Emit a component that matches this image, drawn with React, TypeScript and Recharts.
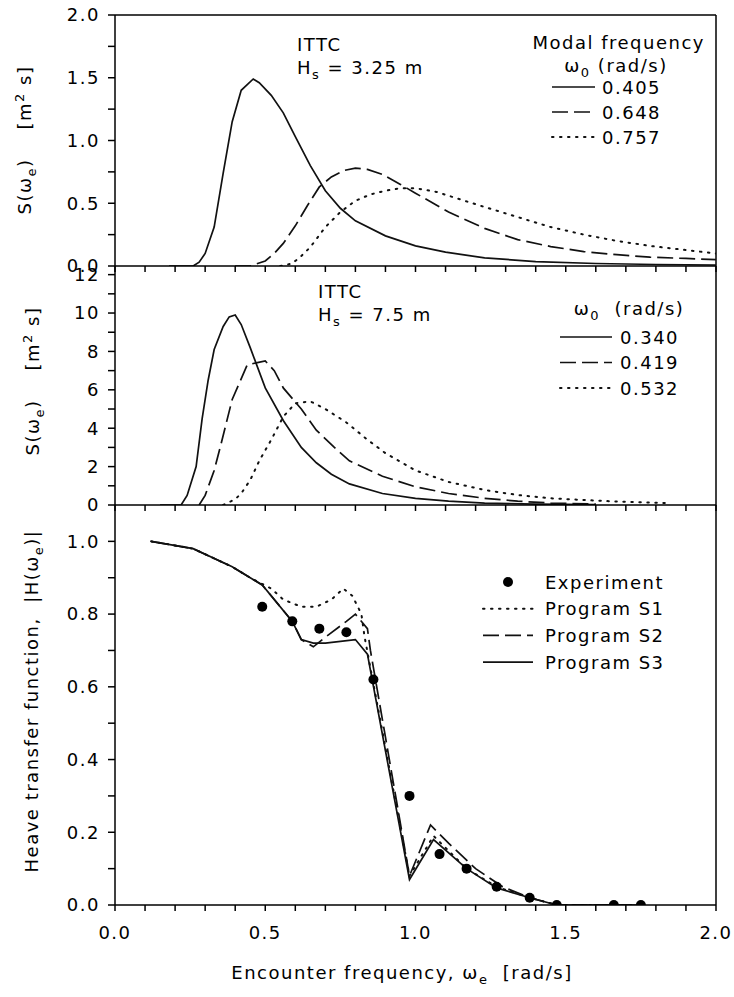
import React from "react";
import { LineChart, ComposedChart, Line, Scatter, XAxis, YAxis, ReferenceLine } from "recharts";

// shared x axis (encounter frequency, rad/s)
const xTicks = [0, 0.1, 0.2, 0.3, 0.4, 0.5, 0.6, 0.7, 0.8, 0.9, 1.0, 1.1, 1.2, 1.3, 1.4, 1.5, 1.6, 1.7, 1.8, 1.9, 2.0];
const xLabels = [0, 0.5, 1.0, 1.5, 2.0];

// top panel: ITTC Hs = 3.25 m
const topYTicks = [0, 0.25, 0.5, 0.75, 1.0, 1.25, 1.5, 1.75, 2.0];
const topYLabels = [0, 0.5, 1.0, 1.5, 2.0];
const topNames = ["0.405", "0.648", "0.757"];
const s405X = [0.18, 0.26, 0.28, 0.30, 0.33, 0.36, 0.39, 0.42, 0.46, 0.48, 0.52, 0.56, 0.60, 0.65, 0.70, 0.75, 0.80, 0.90, 1.00, 1.10, 1.23, 1.40, 1.60, 1.80, 2.00];
const s405Y = [0, 0, 0.03, 0.10, 0.31, 0.74, 1.15, 1.40, 1.49, 1.46, 1.36, 1.22, 1.03, 0.80, 0.60, 0.46, 0.36, 0.24, 0.16, 0.11, 0.065, 0.035, 0.02, 0.012, 0.008];
const s648X = [0.40, 0.45, 0.50, 0.53, 0.56, 0.60, 0.64, 0.68, 0.72, 0.76, 0.80, 0.84, 0.89, 0.95, 1.00, 1.11, 1.23, 1.34, 1.45, 1.56, 1.67, 1.78, 1.90, 2.00];
const s648Y = [0, 0, 0.04, 0.10, 0.18, 0.32, 0.48, 0.63, 0.71, 0.76, 0.78, 0.77, 0.73, 0.65, 0.58, 0.43, 0.30, 0.21, 0.155, 0.115, 0.09, 0.07, 0.06, 0.05];
const s757X = [0.55, 0.59, 0.62, 0.65, 0.70, 0.75, 0.80, 0.85, 0.90, 0.95, 1.00, 1.07, 1.15, 1.23, 1.34, 1.45, 1.56, 1.67, 1.78, 1.89, 2.00];
const s757Y = [0, 0.02, 0.08, 0.15, 0.31, 0.43, 0.52, 0.57, 0.60, 0.62, 0.62, 0.59, 0.53, 0.47, 0.39, 0.31, 0.25, 0.20, 0.16, 0.13, 0.10];

// middle panel: ITTC Hs = 7.5 m
const midYTicks = [0, 1, 2, 3, 4, 5, 6, 7, 8, 9, 10, 11, 12];
const midYLabels = [0, 2, 4, 6, 8, 10, 12];
const midNames = ["0.340", "0.419", "0.532"];
const s340X = [0.15, 0.22, 0.24, 0.27, 0.29, 0.31, 0.33, 0.36, 0.38, 0.40, 0.42, 0.45, 0.50, 0.56, 0.62, 0.67, 0.72, 0.78, 0.89, 1.00, 1.11, 1.23, 1.40, 1.60];
const s340Y = [0, 0, 0.5, 2.0, 4.5, 6.5, 8.1, 9.3, 9.8, 9.9, 9.4, 8.2, 6.1, 4.4, 3.0, 2.2, 1.6, 1.1, 0.6, 0.35, 0.2, 0.1, 0.05, 0.02];
const s419X = [0.28, 0.30, 0.33, 0.35, 0.39, 0.44, 0.47, 0.50, 0.53, 0.56, 0.62, 0.67, 0.73, 0.78, 0.89, 1.00, 1.11, 1.23, 1.34, 1.45, 1.60];
const s419Y = [0, 0.5, 1.8, 3.0, 5.5, 7.3, 7.4, 7.5, 7.0, 6.1, 5.0, 3.9, 3.0, 2.3, 1.5, 0.95, 0.6, 0.35, 0.2, 0.1, 0.05];
const s532X = [0.36, 0.40, 0.42, 0.45, 0.48, 0.52, 0.56, 0.60, 0.65, 0.70, 0.77, 0.84, 0.90, 1.00, 1.11, 1.23, 1.34, 1.45, 1.56, 1.67, 1.84];
const s532Y = [0, 0.3, 0.6, 1.3, 2.3, 3.4, 4.6, 5.3, 5.4, 5.0, 4.3, 3.4, 2.7, 1.8, 1.2, 0.78, 0.52, 0.35, 0.26, 0.18, 0.10];

// bottom panel: heave transfer function
const botYTicks = [0, 0.1, 0.2, 0.3, 0.4, 0.5, 0.6, 0.7, 0.8, 0.9, 1.0];
const botYLabels = [0, 0.2, 0.4, 0.6, 0.8, 1.0];
const botNames = ["Experiment", "Program S1", "Program S2", "Program S3"];
const expX = [0.49, 0.59, 0.68, 0.77, 0.86, 0.98, 1.08, 1.17, 1.27, 1.38, 1.47, 1.66, 1.75];
const expY = [0.82, 0.78, 0.76, 0.75, 0.62, 0.30, 0.14, 0.10, 0.05, 0.02, 0, 0, 0];
const s1X = [0.12, 0.26, 0.39, 0.45, 0.52, 0.56, 0.62, 0.67, 0.72, 0.76, 0.79, 0.82, 0.83, 0.98, 1.06, 1.17, 1.27, 1.38, 1.47, 1.75];
const s1Y = [1.0, 0.98, 0.93, 0.90, 0.87, 0.84, 0.82, 0.82, 0.84, 0.87, 0.85, 0.80, 0.74, 0.08, 0.19, 0.10, 0.05, 0.02, 0, 0];
const s2X = [0.12, 0.26, 0.39, 0.45, 0.49, 0.59, 0.62, 0.66, 0.69, 0.77, 0.80, 0.84, 0.85, 0.98, 1.05, 1.11, 1.20, 1.29, 1.38, 1.47, 1.75];
const s2Y = [1.0, 0.98, 0.93, 0.90, 0.88, 0.78, 0.73, 0.71, 0.73, 0.78, 0.80, 0.76, 0.70, 0.08, 0.22, 0.17, 0.10, 0.05, 0.02, 0, 0];
const s3X = [0.12, 0.26, 0.39, 0.45, 0.49, 0.59, 0.62, 0.66, 0.70, 0.80, 0.84, 0.98, 1.06, 1.17, 1.27, 1.38, 1.47, 1.75];
const s3Y = [1.0, 0.98, 0.93, 0.90, 0.88, 0.78, 0.73, 0.72, 0.72, 0.73, 0.69, 0.07, 0.18, 0.10, 0.047, 0.02, 0, 0];

const W = 734;
const H = 997;
const RIGHT = 716;
const INK = "#111";
const SOLID = "";
const DASHED = "16 6";
const DOTTED = "1.5 6.5";
const NB = "\u00a0";

const pts = (xs: number[], ys: number[]) => xs.map((x, i) => ({ x, y: ys[i] }));
const isLabel = (labels: number[], v: number) => labels.some((l) => Math.abs(l - v) < 1e-6);

// tick label renderer: only major ticks get text, minor ticks keep just their tick line
function tickRenderer(labels: number[], digits: number, side: "x" | "y") {
  return (props: any) => {
    const v = props.payload?.value;
    if (!isLabel(labels, v)) return <g />;
    return side === "x" ? (
      <text x={props.x} y={props.y} dy="0.71em" textAnchor="middle" fontSize={18} fill="#000">
        {v.toFixed(digits)}
      </text>
    ) : (
      <text x={props.x} y={props.y} dy="0.355em" textAnchor="end" fontSize={18} fill="#000">
        {v.toFixed(digits)}
      </text>
    );
  };
}

function xAxis(height: number, withLabels: boolean) {
  return (
    <XAxis
      type="number"
      dataKey="x"
      domain={[0, 2]}
      ticks={xTicks}
      interval={0}
      allowDataOverflow
      height={height}
      tickSize={6}
      tickMargin={15}
      stroke="#000"
      strokeWidth={1.5}
      tick={tickRenderer(withLabels ? xLabels : [], 1, "x")}
    />
  );
}

function yAxis(domain: number[], ticks: number[], labels: number[], digits: number) {
  return (
    <YAxis
      type="number"
      domain={domain}
      ticks={ticks}
      interval={0}
      allowDataOverflow
      width={115}
      tickSize={7}
      tickMargin={8}
      stroke="#000"
      strokeWidth={1.5}
      tick={tickRenderer(labels, digits, "y")}
    />
  );
}

function series(d: { x: number; y: number }[], dash: string, key: string) {
  return (
    <Line
      key={key}
      data={d}
      dataKey="y"
      type="linear"
      stroke={INK}
      strokeWidth={dash === DOTTED ? 2 : 1.7}
      strokeDasharray={dash || undefined}
      strokeLinecap={dash === DOTTED ? "round" : "butt"}
      dot={false}
      isAnimationActive={false}
    />
  );
}

const layer: React.CSSProperties = { position: "absolute", left: 0, top: 0 };

// text with sub/superscripts: each part is [text, shift] where shift is the baseline offset in px
type Part = [string, number];
function Rich({ x, y, parts, anchor, rotate }: { x: number; y: number; parts: Part[]; anchor?: string; rotate?: boolean }) {
  let prev = 0;
  return (
    <text
      x={x}
      y={y}
      textAnchor={anchor || "start"}
      transform={rotate ? `rotate(-90 ${x} ${y})` : undefined}
    >
      {parts.map(([t, shift], i) => {
        const dy = shift - prev;
        prev = shift;
        return (
          <tspan key={i} dy={dy} fontSize={shift === 0 ? 18 : 13}>
            {t}
          </tspan>
        );
      })}
    </text>
  );
}

function Swatch({ x, y, w, dash }: { x: number; y: number; w: number; dash: string }) {
  return (
    <line
      x1={x}
      x2={x + w}
      y1={y}
      y2={y}
      stroke={INK}
      strokeWidth={dash === DOTTED ? 2 : 1.7}
      strokeDasharray={dash || undefined}
      strokeLinecap={dash === DOTTED ? "round" : "butt"}
    />
  );
}

const specTitle: Part[] = [["S(ω", 0], ["e", 5], [`)${NB}${NB}${NB}${NB}[m`, 0], ["2", -7], [`${NB}s]`, 0]];

export default function App() {
  const styles = [SOLID, DASHED, DOTTED];
  const botStyles = [DOTTED, DASHED, SOLID];
  return (
    <div
      style={{
        position: "absolute",
        left: 0,
        top: 0,
        width: W,
        height: H,
        background: "#fff",
        fontFamily: "'DejaVu Sans', sans-serif",
        letterSpacing: "1.5px",
      }}
    >
      {/* top panel */}
      <div style={layer}>
        <LineChart width={W} height={H} margin={{ top: 15, right: W - RIGHT, bottom: H - 266 - 20, left: 0 }}>
          {xAxis(20, false)}
          {yAxis([0, 2], topYTicks, topYLabels, 1)}
          <ReferenceLine x={2} stroke="#000" strokeWidth={1.5} />
          <ReferenceLine y={2} stroke="#000" strokeWidth={1.5} />
          {series(pts(s405X, s405Y), SOLID, "a")}
          {series(pts(s648X, s648Y), DASHED, "b")}
          {series(pts(s757X, s757Y), DOTTED, "c")}
        </LineChart>
      </div>

      {/* middle panel */}
      <div style={layer}>
        <LineChart width={W} height={H} margin={{ top: 266, right: W - RIGHT, bottom: H - 505 - 20, left: 0 }}>
          {xAxis(20, false)}
          {yAxis([0, 12.45], midYTicks, midYLabels, 0)}
          <ReferenceLine x={2} stroke="#000" strokeWidth={1.5} />
          {series(pts(s340X, s340Y), SOLID, "a")}
          {series(pts(s419X, s419Y), DASHED, "b")}
          {series(pts(s532X, s532Y), DOTTED, "c")}
        </LineChart>
      </div>

      {/* bottom panel */}
      <div style={layer}>
        <ComposedChart width={W} height={H} margin={{ top: 505, right: W - RIGHT, bottom: H - 905 - 60, left: 0 }}>
          {xAxis(60, true)}
          {yAxis([0, 1.1], botYTicks, botYLabels, 1)}
          <ReferenceLine x={2} stroke="#000" strokeWidth={1.5} />
          {series(pts(s1X, s1Y), DOTTED, "s1")}
          {series(pts(s2X, s2Y), DASHED, "s2")}
          {series(pts(s3X, s3Y), SOLID, "s3")}
          <Scatter
            data={pts(expX, expY)}
            dataKey="y"
            fill="#000"
            isAnimationActive={false}
            shape={(p: any) => <circle cx={p.cx} cy={p.cy} r={5} fill="#000" />}
          />
        </ComposedChart>
      </div>

      {/* titles, annotations, legends */}
      <svg width={W} height={H} style={{ ...layer, pointerEvents: "none" }} fontSize={18} fill="#000">
        <Rich x={31} y={140} anchor="middle" rotate parts={specTitle} />
        <Rich x={39} y={381} anchor="middle" rotate parts={specTitle} />
        <Rich
          x={38}
          y={701}
          anchor="middle"
          rotate
          parts={[[`Heave transfer function,${NB}${NB}|H(ω`, 0], ["e", 5], [")|", 0]]}
        />
        <Rich
          x={402}
          y={979}
          anchor="middle"
          parts={[[`Encounter frequency,${NB}ω`, 0], ["e", 5], [`${NB}${NB}[rad/s]`, 0]]}
        />

        {/* top panel annotation and legend */}
        <text x={297} y={51}>ITTC</text>
        <Rich x={297} y={74} parts={[["H", 0], ["s", 5], [`${NB}= 3.25 m`, 0]]} />
        <text x={705} y={49} textAnchor="end">Modal frequency</text>
        <Rich x={616} y={72} anchor="middle" parts={[["ω", 0], ["0", 5], [`${NB}(rad/s)`, 0]]} />
        {topNames.map((n, i) => (
          <g key={n}>
            <Swatch x={552} y={87 + i * 25} w={43} dash={styles[i]} />
            <text x={602} y={93.5 + i * 25}>{n}</text>
          </g>
        ))}

        {/* middle panel annotation and legend */}
        <text x={318} y={298}>ITTC</text>
        <Rich x={318} y={321} parts={[["H", 0], ["s", 5], [`${NB}= 7.5 m`, 0]]} />
        <Rich x={629} y={315} anchor="middle" parts={[["ω", 0], ["0", 5], [`${NB}${NB}(rad/s)`, 0]]} />
        {midNames.map((n, i) => (
          <g key={n}>
            <Swatch x={560} y={337 + i * 25.5} w={52} dash={styles[i]} />
            <text x={620} y={343.5 + i * 25.5}>{n}</text>
          </g>
        ))}

        {/* bottom panel legend */}
        {botNames.map((n, i) => (
          <g key={n}>
            {i === 0 ? (
              <circle cx={508} cy={582} r={5} fill="#000" />
            ) : (
              <Swatch x={483} y={582 + i * 26.7} w={50} dash={botStyles[i - 1]} />
            )}
            <text x={545} y={588.5 + i * 26.7}>{n}</text>
          </g>
        ))}
      </svg>
    </div>
  );
}
